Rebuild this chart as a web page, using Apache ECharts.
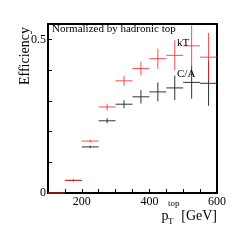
<!DOCTYPE html>
<html>
<head>
<meta charset="utf-8">
<script src="https://cdn.jsdelivr.net/npm/echarts@6/dist/echarts.min.js"></script>
<style>html,body{margin:0;padding:0;background:#fff}#c{width:242px;height:242px}</style>
</head>
<body>
<div id="c"></div>
<script>
const binCenters = [125, 175, 225, 275, 325, 375, 425, 475, 525, 575];
const binWidth = 50;
const ktValues = [0, 0.041, 0.169, 0.280, 0.365, 0.405, 0.437, 0.448, 0.479, 0.442];
const ktErrors = [0, 0.003, 0.005, 0.011, 0.016, 0.022, 0.033, 0.049, 0.066, 0.079];
const caValues = [0, 0.041, 0.150, 0.235, 0.289, 0.313, 0.329, 0.342, 0.360, 0.357];
const caErrors = [0, 0.003, 0.004, 0.008, 0.013, 0.022, 0.031, 0.040, 0.053, 0.073];
const xTickLabels = [200, 400, 600];
const yTickLabels = [0, 0.5];

const FONT = '"Liberation Serif", "DejaVu Serif", serif';

function makeData(vals, errs) {
  return binCenters.map((x, i) => [x, vals[i], errs[i]]);
}
function errRender(color) {
  return function (params, api) {
    const x = api.value(0), y = api.value(1), e = api.value(2);
    const h = binWidth / 2;
    const a = api.coord([x - h, y]), b = api.coord([x + h, y]);
    const c = api.coord([x, y - e]), d = api.coord([x, y + e]);
    const st = { stroke: color, lineWidth: 1 };
    return {
      type: 'group',
      children: [
        { type: 'line', shape: { x1: a[0], y1: a[1], x2: b[0], y2: b[1] }, style: st },
        { type: 'line', shape: { x1: c[0], y1: c[1], x2: d[0], y2: d[1] }, style: st }
      ]
    };
  };
}

const chart = echarts.init(document.getElementById('c'), null, { renderer: 'canvas' });
chart.setOption({
  animation: false,
  backgroundColor: '#fff',
  grid: { left: 48, right: 25, top: 24, bottom: 49, show: true, borderColor: '#000', borderWidth: 2, backgroundColor: 'transparent' },
  xAxis: {
    type: 'value', min: 100, max: 600, interval: 50,
    axisLine: { show: false },
    axisTick: { show: true, inside: true, length: 4, lineStyle: { color: '#000', width: 1 } },
    splitLine: { show: false },
    axisLabel: {
      margin: 3, color: '#000', fontFamily: FONT, fontSize: 12,
      formatter: v => (xTickLabels.indexOf(v) >= 0 ? String(v) : '')
    }
  },
  yAxis: {
    type: 'value', min: 0, max: 0.55, interval: 0.1,
    axisLine: { show: false },
    axisTick: { show: true, inside: true, length: 4, lineStyle: { color: '#000', width: 1 } },
    splitLine: { show: false },
    axisLabel: {
      margin: 2, color: '#000', fontFamily: FONT, fontSize: 12,
      formatter: v => {
        for (const t of yTickLabels) if (Math.abs(v - t) < 1e-6) return String(t);
        return '';
      }
    }
  },
  series: [
    { type: 'custom', name: 'C/A', renderItem: errRender('#333'), data: makeData(caValues, caErrors), z: 3 },
    { type: 'custom', name: 'kT', renderItem: errRender('rgba(255,30,30,0.8)'), data: makeData(ktValues, ktErrors), z: 4 }
  ],
  graphic: [
    { type: 'text', x: 52, y: 29.5, style: { text: 'Normalized by hadronic top', font: '11px ' + FONT, fill: '#000', verticalAlign: 'middle' }, z: 10 },
    { type: 'text', x: 177, y: 43, style: { text: 'kT', font: '11px ' + FONT, fill: '#000', verticalAlign: 'middle' }, z: 10 },
    { type: 'text', x: 177, y: 74.5, style: { text: 'C/A', font: '11px ' + FONT, fill: '#000', verticalAlign: 'middle' }, z: 10 },
    { type: 'text', x: 25, y: 27, rotation: Math.PI / 2, style: { text: 'Efficiency', font: '14px ' + FONT, fill: '#000', align: 'right', verticalAlign: 'middle' }, z: 10 },
    { type: 'text', x: 161.5, y: 216, style: { text: 'p', font: '14px ' + FONT, fill: '#000', verticalAlign: 'middle' }, z: 10 },
    { type: 'text', x: 168, y: 222, style: { text: 'T', font: '9px ' + FONT, fill: '#000', verticalAlign: 'middle' }, z: 10 },
    { type: 'text', x: 168, y: 203.5, style: { text: 'top', font: '9px ' + FONT, fill: '#000', verticalAlign: 'middle' }, z: 10 },
    { type: 'text', x: 217, y: 216, style: { text: '[GeV]', font: '14px ' + FONT, fill: '#000', align: 'right', verticalAlign: 'middle' }, z: 10 }
  ]
});
</script>
</body>
</html>
